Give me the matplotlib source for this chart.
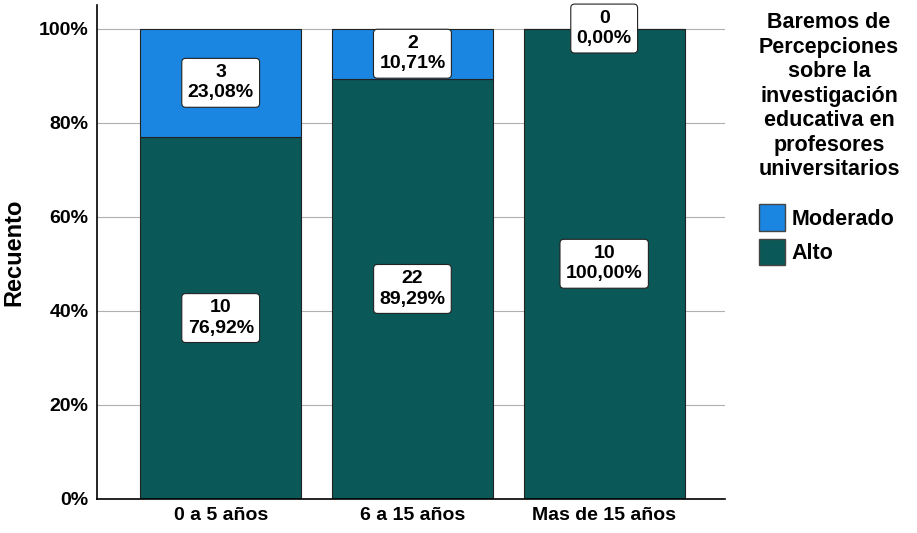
import numpy as np
import matplotlib
matplotlib.use('Agg')
import matplotlib.pyplot as plt
from matplotlib.patches import Patch

categorias = ['0 a 5 años', '6 a 15 años', 'Mas de 15 años']
alto = [10, 22, 10]
moderado = [3, 2, 0]
alto_pct = [76.92, 89.29, 100.00]
moderado_pct = [23.08, 10.71, 0.00]
yticks = [0, 20, 40, 60, 80, 100]

azul = '#1a86e2'
verde = '#0b5858'

plt.rcParams['font.family'] = ['Liberation Sans', 'DejaVu Sans']

fig = plt.figure(figsize=(9.17, 5.33), dpi=100)
ax = fig.add_axes([0.1058, 0.0638, 0.6848, 0.9268])

x = np.arange(len(categorias))
ax.bar(x, alto_pct, width=0.84, color=verde, edgecolor='#222222', linewidth=0.8, zorder=2)
ax.bar(x, moderado_pct, width=0.84, bottom=alto_pct, color=azul, edgecolor='#222222',
       linewidth=0.8, zorder=2)

def etiqueta(xx, yy, n, p):
    txt = '%d\n%s%%' % (n, ('%.2f' % p).replace('.', ','))
    ax.text(xx, yy, txt, ha='center', va='center', fontsize=14, fontweight='bold',
            linespacing=1.25, zorder=5,
            bbox=dict(boxstyle='round,pad=0.3,rounding_size=0.2', fc='white',
                      ec='#222222', lw=0.8))

for i in range(len(categorias)):
    etiqueta(x[i], alto_pct[i] / 2, alto[i], alto_pct[i])
    etiqueta(x[i], alto_pct[i] + moderado_pct[i] / 2, moderado[i], moderado_pct[i])

ax.set_xlim(-0.645, 2.63)
ax.set_ylim(0, 105)
ax.set_yticks(yticks)
ax.set_yticklabels(['%d%%' % v for v in yticks], fontsize=14, fontweight='bold')
ax.set_xticks(x)
ax.set_xticklabels(categorias, fontsize=14, fontweight='bold')
ax.tick_params(axis='both', length=0, pad=6)
ax.yaxis.grid(True, color='#b0b0b0', linewidth=0.8, zorder=0)
ax.set_axisbelow(True)
for s in ['top', 'right']:
    ax.spines[s].set_visible(False)
ax.spines['left'].set_linewidth(1.2)
ax.spines['bottom'].set_linewidth(1.2)
ax.set_ylabel('Recuento', fontsize=17, fontweight='bold', labelpad=10)

fig.text(0.904, 0.977, 'Baremos de\nPercepciones\nsobre la\ninvestigación\neducativa en\nprofesores\nuniversitarios',
         ha='center', va='top', fontsize=15.5, fontweight='bold', linespacing=1.22)

handles = [Patch(facecolor=azul, edgecolor='#444444'), Patch(facecolor=verde, edgecolor='#444444')]
leg = fig.legend(handles, ['Moderado', 'Alto'], loc='upper left', bbox_to_anchor=(0.807, 0.653),
                 frameon=False, prop=dict(size=15.5, weight='bold'),
                 handlelength=1.2, handleheight=1.5, handletextpad=0.3, labelspacing=0.4)

fig.savefig('out.png', dpi=100)
